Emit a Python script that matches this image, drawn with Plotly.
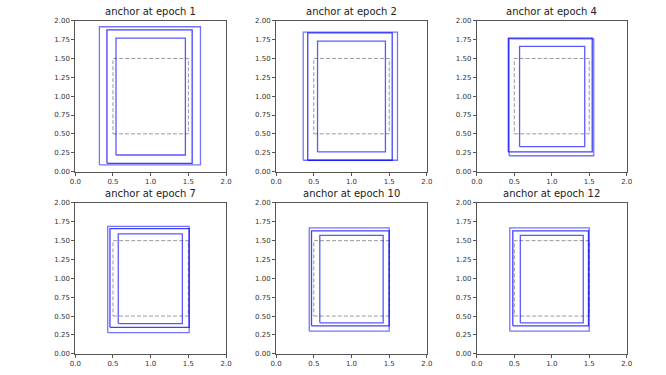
import plotly.graph_objects as go
from plotly.subplots import make_subplots

epochs = [1, 2, 4, 7, 10, 12]

# boxes per epoch: [x0, y0, x1, y1]
boxes_a = [[0.32, 0.09, 1.66, 1.92], [0.36, 0.15, 1.61, 1.85], [0.43, 0.21, 1.56, 1.76],
           [0.43, 0.28, 1.51, 1.69], [0.44, 0.30, 1.50, 1.67], [0.44, 0.30, 1.50, 1.67]]
boxes_b = [[0.42, 0.11, 1.55, 1.88], [0.42, 0.15, 1.54, 1.84], [0.42, 0.26, 1.54, 1.77],
           [0.46, 0.35, 1.51, 1.66], [0.47, 0.37, 1.50, 1.63], [0.48, 0.37, 1.49, 1.63]]
boxes_c = [[0.54, 0.22, 1.46, 1.77], [0.55, 0.26, 1.45, 1.73], [0.57, 0.33, 1.44, 1.66],
           [0.57, 0.40, 1.42, 1.59], [0.58, 0.41, 1.42, 1.57], [0.58, 0.41, 1.42, 1.57]]
target = [0.5, 0.5, 1.5, 1.5]

alphas = [0.55, 0.75, 0.65]

xt = [0.0, 0.5, 1.0, 1.5, 2.0]
yt = [0.0, 0.25, 0.5, 0.75, 1.0, 1.25, 1.5, 1.75, 2.0]

W, H = 666, 375
S = 1.0173  # small stretch about the centre, the page comes out a touch smaller


def outline(b):
    x0, y0, x1, y1 = b
    return [x0, x1, x1, x0, x0], [y0, y0, y1, y1, y0]


def xdom(a, b):
    a = W / 2 + (a - W / 2) * S
    b = W / 2 + (b - W / 2) * S
    return [a / W, b / W]


def ydom(top, bot):
    top = H / 2 + (top - H / 2) * S
    bot = H / 2 + (bot - H / 2) * S
    return [(H - bot) / H, (H - top) / H]


fig = make_subplots(rows=2, cols=3)

for i, ep in enumerate(epochs):
    r, c = i // 3 + 1, i % 3 + 1
    tx, ty = outline(target)
    fig.add_trace(go.Scatter(x=tx, y=ty, mode="lines",
                             line=dict(color="gray", width=0.8, dash="4px,2px")), row=r, col=c)
    for boxes, a in zip([boxes_a, boxes_b, boxes_c], alphas):
        bx, by = outline(boxes[i])
        fig.add_trace(go.Scatter(x=bx, y=by, mode="lines",
                                 line=dict(color="rgba(0,0,255,%s)" % a, width=1.3)), row=r, col=c)

xdoms = [xdom(75, 226), xdom(276, 427), xdom(477, 627)]
ydoms = [ydom(20, 171.5), ydom(203, 354.5)]

for i, ep in enumerate(epochs):
    r, c = i // 3, i % 3
    n = "" if i == 0 else str(i + 1)
    fig.layout["xaxis" + n].update(domain=xdoms[c], range=[0, 2], tickvals=xt,
                                   ticktext=["%.1f" % v for v in xt])
    fig.layout["yaxis" + n].update(domain=ydoms[r], range=[0, 2], tickvals=yt,
                                   ticktext=["%.2f" % v for v in yt])
    fig.add_annotation(text="anchor at epoch %d" % ep, xref="paper", yref="paper",
                       x=(xdoms[c][0] + xdoms[c][1]) / 2, y=ydoms[r][1] + 0.006,
                       xanchor="center", yanchor="bottom", showarrow=False,
                       font=dict(size=10, color="#222"))

fig.update_xaxes(showgrid=False, zeroline=False, showline=True, mirror=True, linecolor="#555",
                 linewidth=1, ticks="outside", ticklen=3, tickcolor="#555",
                 tickfont=dict(size=7, color="#333"))
fig.update_yaxes(showgrid=False, zeroline=False, showline=True, mirror=True, linecolor="#555",
                 linewidth=1, ticks="outside", ticklen=3, tickcolor="#555",
                 tickfont=dict(size=7, color="#333"))

fig.update_layout(width=W, height=H, showlegend=False, plot_bgcolor="white",
                  paper_bgcolor="white", margin=dict(l=0, r=0, t=0, b=0),
                  font=dict(family="DejaVu Sans"))

page_css = ("document.body.style.margin='0';"
            "document.body.style.overflow='hidden';"
            "document.documentElement.style.overflow='hidden';")
fig.write_html("out.html", config={"displayModeBar": False}, post_script=page_css)
